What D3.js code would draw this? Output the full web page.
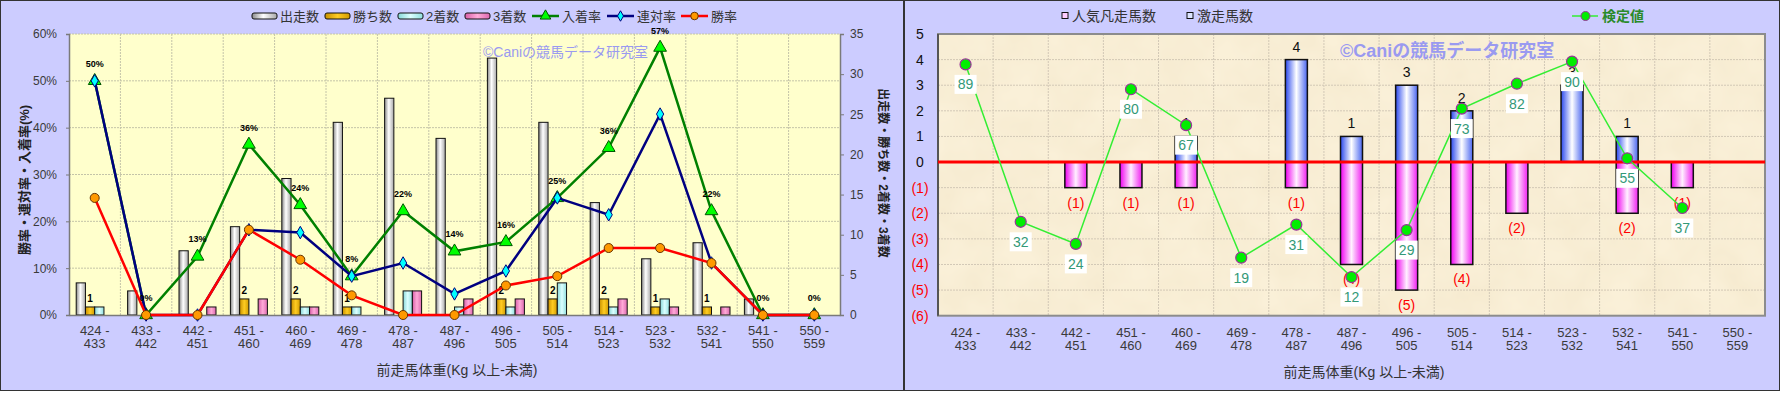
<!DOCTYPE html>
<html>
<head>
<meta charset="utf-8">
<script src="https://cdn.jsdelivr.net/npm/d3@7"></script>
<style>
  body { margin: 0; background: #fff; }
  svg text { font-family: "Liberation Sans", "Noto Sans CJK JP", sans-serif; }
</style>
</head>
<body>
<div id="chart"></div>
<script>
// weight classes (kg, from - to)
let categories = ["424 - 433", "433 - 442", "442 - 451", "451 - 460", "460 - 469", "469 - 478", "478 - 487", "487 - 496",
    "496 - 505", "505 - 514", "514 - 523", "523 - 532", "532 - 541", "541 - 550", "550 - 559"];

// left chart, counts
let runs    = [4, 3, 8, 11, 17, 24, 27, 22, 32, 24, 14, 7, 9, 2, 0];
let wins    = [1, 0, 0, 2, 2, 1, 0, 0, 2, 2, 2, 1, 1, 0, 0];
let seconds = [1, 0, 0, 0, 1, 1, 3, 1, 1, 4, 1, 2, 0, 0, 0];
let thirds  = [0, 0, 1, 2, 1, 0, 3, 2, 2, 0, 2, 1, 1, 0, 0];

// left chart, rates in %
let winRate    = [25, 0, 0, 18.2, 11.8, 4.2, 0, 0, 6.3, 8.3, 14.3, 14.3, 11.1, 0, 0];
let rentaiRate = [50, 0, 0, 18.2, 17.6, 8.3, 11.1, 4.5, 9.4, 25, 21.4, 42.9, 11.1, 0, 0];
let placeRate  = [50, 0, 12.5, 36.4, 23.5, 8.3, 22.2, 13.6, 15.6, 25, 35.7, 57.1, 22.2, 0, 0];

let rateTicks  = [0, 10, 20, 30, 40, 50, 60];
let countTicks = [0, 5, 10, 15, 20, 25, 30, 35];

// right chart
let flopCount  = [0, 0, -1, -1, -1, 0, -1, -4, -5, -4, -2, 0, -2, -1, 0];
let surgeCount = [0, 0, 0, 0, 1, 0, 4, 1, 3, 2, 0, 3, 1, 0, 0];
let testValue  = [89, 32, 24, 80, 67, 19, 31, 12, 29, 73, 82, 90, 55, 37, null];
let horseTicks = [5, 4, 3, 2, 1, 0, -1, -2, -3, -4, -5, -6];

let svg = d3.select("#chart").append("svg")
    .attr("width", 1780)
    .attr("height", 393);
let defs = svg.append("defs");

function hGrad(id, stops) {
    let lg = defs.append("linearGradient").attr("id", id)
        .attr("x1", "0").attr("x2", "1").attr("y1", "0").attr("y2", "0");
    stops.forEach(function(s) {
        lg.append("stop").attr("offset", s[0]).attr("stop-color", s[1]);
    });
}
hGrad("gRun",   [["0", "#8a8a8a"], ["0.45", "#ffffff"], ["1", "#a8a8a8"]]);
hGrad("gWin",   [["0", "#c89000"], ["0.5", "#ffcc22"], ["1", "#d09a00"]]);
hGrad("gSec",   [["0", "#88d8d8"], ["0.5", "#dcffff"], ["1", "#90dede"]]);
hGrad("gThird", [["0", "#d860a8"], ["0.5", "#ffaad8"], ["1", "#dc68ae"]]);
hGrad("gBlue",  [["0", "#2a48ee"], ["0.5", "#ffffff"], ["1", "#4a66f0"]]);
hGrad("gPink",  [["0", "#f000f0"], ["0.5", "#fff0ff"], ["1", "#f020f0"]]);

// paper texture for the right plot
let paper = defs.append("filter").attr("id", "paper")
    .attr("x", 0).attr("y", 0).attr("width", "100%").attr("height", "100%");
paper.append("feTurbulence").attr("type", "fractalNoise")
    .attr("baseFrequency", "0.025").attr("numOctaves", 3).attr("seed", 7);
paper.append("feColorMatrix").attr("type", "matrix")
    .attr("values", "0 0 0 0 0.85  0 0 0 0 0.74  0 0 0 0 0.52  0.5 0 0 0 -0.12");

// ================= left chart =================
let L = { left: 69, right: 840, top: 34, bottom: 315 };
let gL = svg.append("g");

gL.append("rect")
    .attr("x", 0.5).attr("y", 0.5).attr("width", 903).attr("height", 390)
    .attr("fill", "#ccccff").attr("stroke", "#333");
gL.append("rect")
    .attr("x", L.left).attr("y", L.top)
    .attr("width", L.right - L.left).attr("height", L.bottom - L.top)
    .attr("fill", "#ffffcc");

let x = d3.scaleBand().domain(categories).range([L.left, L.right]);
let yL = d3.scaleLinear().domain([0, 60]).range([L.bottom, L.top]);
let yR = d3.scaleLinear().domain([0, 35]).range([L.bottom, L.top]);

// grid
gL.append("g").selectAll("line")
    .data(rateTicks.filter(function(d) { return d > 0; }))
    .enter().append("line")
    .attr("x1", L.left).attr("x2", L.right)
    .attr("y1", function(d) { return yL(d); }).attr("y2", function(d) { return yL(d); })
    .attr("stroke", "#c4c4a8").attr("stroke-dasharray", "2,1");
gL.append("g").selectAll("line")
    .data(categories.slice(1))
    .enter().append("line")
    .attr("x1", function(d) { return x(d); }).attr("x2", function(d) { return x(d); })
    .attr("y1", L.top).attr("y2", L.bottom)
    .attr("stroke", "#c4c4a8").attr("stroke-dasharray", "2,1");

gL.append("text")
    .attr("x", 483).attr("y", 57)
    .attr("fill", "#9a9af0").style("font-size", "14px")
    .text("©Caniの競馬データ研究室");

// bars
let barSeries = ["出走数", "勝ち数", "2着数", "3着数"];
let barValues = [runs, wins, seconds, thirds];
let barFill = ["url(#gRun)", "url(#gWin)", "url(#gSec)", "url(#gThird)"];
let x1 = d3.scaleBand().domain(barSeries).range([7.2, x.bandwidth() - 7.2]);

let barRows = [];
categories.forEach(function(c, i) {
    barSeries.forEach(function(s, j) {
        barRows.push({ cat: c, series: s, value: barValues[j][i], fill: barFill[j] });
    });
});

gL.append("g").selectAll("rect")
    .data(barRows.filter(function(d) { return d.value > 0; }))
    .enter().append("rect")
    .attr("x", function(d) { return x(d.cat) + x1(d.series); })
    .attr("width", x1.bandwidth())
    .attr("y", function(d) { return yR(d.value); })
    .attr("height", function(d) { return L.bottom - yR(d.value); })
    .attr("fill", function(d) { return d.fill; })
    .attr("stroke", "#111").attr("stroke-width", 1);

// win count labels
gL.append("g").selectAll("text")
    .data(barRows.filter(function(d) { return d.series == "勝ち数" && d.value > 0; }))
    .enter().append("text")
    .attr("x", function(d) { return x(d.cat) + x1(d.series) + x1.bandwidth() / 2; })
    .attr("y", function(d) { return yR(d.value) - 5; })
    .attr("text-anchor", "middle")
    .style("font-size", "10px").style("font-weight", "bold")
    .text(function(d) { return d.value; });

// axes
let axL = gL.append("g")
    .attr("transform", "translate(" + L.left + ",0)")
    .call(d3.axisLeft(yL).tickValues(rateTicks).tickFormat(function(d) { return d + "%"; })
        .tickSize(3).tickPadding(9));
let axR = gL.append("g")
    .attr("transform", "translate(" + L.right + ",0)")
    .call(d3.axisRight(yR).tickValues(countTicks).tickSize(4).tickPadding(6));
let axB = gL.append("g")
    .attr("transform", "translate(0," + L.bottom + ")")
    .call(d3.axisBottom(x).tickSize(0));
[axL, axR, axB].forEach(function(a) {
    a.select(".domain").attr("stroke", "#7a7a7a").attr("stroke-width", 1.5);
    a.selectAll(".tick line").attr("stroke", "#7a7a7a");
    a.selectAll("text").attr("fill", "#3a3a3a").style("font-size", "12px");
});

function twoLineTicks(axis, y0) {
    axis.selectAll(".tick text").each(function(d) {
        let parts = d.split(" - ");
        let t = d3.select(this).text(null).attr("y", null).attr("dy", null);
        t.append("tspan").attr("x", 0).attr("y", y0).text(parts[0] + " -");
        t.append("tspan").attr("x", 0).attr("y", y0 + 13).text(parts[1]);
    }).style("font-size", "13px");
}
twoLineTicks(axB, 20);

// lines
let lineSeries = [
    { name: "入着率", values: placeRate,  color: "#008000", mark: d3.symbolTriangle, size: 70, fill: "#00ff00", edge: "#005500" },
    { name: "連対率", values: rentaiRate, color: "#000080", mark: d3.symbolDiamond,  size: 45, fill: "#00ffff", edge: "#000080" },
    { name: "勝率",   values: winRate,    color: "#ff0000", mark: d3.symbolCircle,   size: 64, fill: "#ff9900", edge: "#663300" }
];
let line = d3.line()
    .x(function(d) { return x(d.cat) + x.bandwidth() / 2; })
    .y(function(d) { return yL(d.v); });

lineSeries.forEach(function(s) {
    let pts = categories.map(function(c, i) { return { cat: c, v: s.values[i] }; });
    gL.append("path").datum(pts)
        .attr("d", line)
        .attr("fill", "none").attr("stroke", s.color).attr("stroke-width", 2.5);
    gL.append("g").selectAll("path")
        .data(pts).enter().append("path")
        .attr("d", d3.symbol().type(s.mark).size(s.size))
        .attr("transform", function(d) {
            return "translate(" + (x(d.cat) + x.bandwidth() / 2) + "," + yL(d.v) + ")";
        })
        .attr("fill", s.fill).attr("stroke", s.edge).attr("stroke-width", 1);
});

// place rate labels
gL.append("g").selectAll("text")
    .data(categories.map(function(c, i) { return { cat: c, v: placeRate[i] }; }))
    .enter().append("text")
    .attr("x", function(d) { return x(d.cat) + x.bandwidth() / 2; })
    .attr("y", function(d) { return yL(d.v) - 14; })
    .attr("text-anchor", "middle")
    .style("font-size", "9px").style("font-weight", "bold")
    .text(function(d) { return Math.round(d.v) + "%"; });

// axis titles
gL.append("text")
    .attr("transform", "translate(29,180) rotate(-90)")
    .attr("text-anchor", "middle").attr("fill", "#222")
    .style("font-size", "13px").style("font-weight", "bold")
    .text("勝率・連対率・入着率(%)");
gL.append("text")
    .attr("transform", "translate(879,173) rotate(90)")
    .attr("text-anchor", "middle").attr("fill", "#222")
    .style("font-size", "12px").style("font-weight", "bold")
    .text("出走数・勝ち数・2着数・3着数");
gL.append("text")
    .attr("x", 457).attr("y", 375)
    .attr("text-anchor", "middle").attr("fill", "#333")
    .style("font-size", "14px")
    .text("前走馬体重(Kg 以上-未満)");

// legend
let legL = gL.append("g").attr("transform", "translate(0,16)");
let legBars = [[252, "出走数", "url(#gRun)"], [325, "勝ち数", "url(#gWin)"], [398, "2着数", "url(#gSec)"], [465, "3着数", "url(#gThird)"]];
legBars.forEach(function(b) {
    legL.append("rect").attr("x", b[0]).attr("y", -3).attr("width", 25).attr("height", 6).attr("rx", 2)
        .attr("fill", b[2]).attr("stroke", "#111");
    legL.append("text").attr("x", b[0] + 28).attr("y", 5)
        .attr("fill", "#333").style("font-size", "13px").text(b[1]);
});
let legLineX = [532, 607, 681];
lineSeries.forEach(function(s, i) {
    let lx = legLineX[i];
    legL.append("line").attr("x1", lx).attr("x2", lx + 27).attr("y1", 0).attr("y2", 0)
        .attr("stroke", s.color).attr("stroke-width", 2.5);
    legL.append("path").attr("d", d3.symbol().type(s.mark).size(s.size * 0.7))
        .attr("transform", "translate(" + (lx + 13.5) + ",0)")
        .attr("fill", s.fill).attr("stroke", s.edge);
    legL.append("text").attr("x", lx + 30).attr("y", 5)
        .attr("fill", "#333").style("font-size", "13px").text(s.name);
});

// ================= right chart =================
let R = { left: 938, right: 1765, top: 34, bottom: 315.7 };
let gR = svg.append("g");

gR.append("rect")
    .attr("x", 904.5).attr("y", 0.5).attr("width", 875).attr("height", 390)
    .attr("fill", "#ccccff").attr("stroke", "#333");
gR.append("rect")
    .attr("x", R.left).attr("y", R.top)
    .attr("width", R.right - R.left).attr("height", R.bottom - R.top)
    .attr("fill", "#faf0d8");
gR.append("rect")
    .attr("x", R.left).attr("y", R.top)
    .attr("width", R.right - R.left).attr("height", R.bottom - R.top)
    .attr("filter", "url(#paper)");

let xR = d3.scaleBand().domain(categories).range([R.left, R.right]);
let yC = d3.scaleLinear().domain([-6, 5]).range([R.bottom, R.top]);
let yT = d3.scaleLinear().domain([-2, 100]).range([R.bottom, R.top]);

gR.append("g").selectAll("line")
    .data(horseTicks.slice(1, -1))
    .enter().append("line")
    .attr("x1", R.left).attr("x2", R.right)
    .attr("y1", function(d) { return yC(d); }).attr("y2", function(d) { return yC(d); })
    .attr("stroke", "#d2c8b6").attr("stroke-dasharray", "2,1");
gR.append("g").selectAll("line")
    .data(categories.slice(1))
    .enter().append("line")
    .attr("x1", function(d) { return xR(d); }).attr("x2", function(d) { return xR(d); })
    .attr("y1", R.top).attr("y2", R.bottom)
    .attr("stroke", "#d2c8b6").attr("stroke-dasharray", "2,1");
gR.append("rect")
    .attr("x", R.left).attr("y", R.top)
    .attr("width", R.right - R.left).attr("height", R.bottom - R.top)
    .attr("fill", "none").attr("stroke", "#8c8c8c").attr("stroke-width", 2);
gR.append("line")
    .attr("x1", R.left).attr("x2", R.left).attr("y1", R.top).attr("y2", R.bottom)
    .attr("stroke", "#555").attr("stroke-width", 2);

gR.append("text")
    .attr("x", 1340).attr("y", 57)
    .attr("fill", "#9a9af0").style("font-size", "18px").style("font-weight", "bold")
    .text("©Caniの競馬データ研究室");

// y tick labels
gR.append("g").selectAll("text")
    .data(horseTicks).enter().append("text")
    .attr("x", 920).attr("y", function(d) { return yC(d) + 5; })
    .attr("text-anchor", "middle")
    .attr("fill", function(d) { return d < 0 ? "#ff0000" : "#111"; })
    .style("font-size", "14px")
    .text(function(d) { return d < 0 ? "(" + (-d) + ")" : d; });

// x tick labels
let axBR = gR.append("g")
    .attr("transform", "translate(0," + R.bottom + ")")
    .call(d3.axisBottom(xR).tickSize(0));
axBR.select(".domain").remove();
axBR.selectAll("text").attr("fill", "#3a3a3a");
twoLineTicks(axBR, 21);

// bars
let barW = 22;
let flopRows = categories.map(function(c, i) { return { cat: c, v: flopCount[i] }; })
    .filter(function(d) { return d.v < 0; });
let surgeRows = categories.map(function(c, i) { return { cat: c, v: surgeCount[i] }; })
    .filter(function(d) { return d.v > 0; });

gR.append("g").selectAll("rect")
    .data(surgeRows).enter().append("rect")
    .attr("x", function(d) { return xR(d.cat) + xR.bandwidth() / 2 - barW / 2; })
    .attr("width", barW)
    .attr("y", function(d) { return yC(d.v); })
    .attr("height", function(d) { return yC(0) - yC(d.v); })
    .attr("fill", "url(#gBlue)").attr("stroke", "#111").attr("stroke-width", 1.5);
gR.append("g").selectAll("rect")
    .data(flopRows).enter().append("rect")
    .attr("x", function(d) { return xR(d.cat) + xR.bandwidth() / 2 - barW / 2; })
    .attr("width", barW)
    .attr("y", yC(0))
    .attr("height", function(d) { return yC(d.v) - yC(0); })
    .attr("fill", "url(#gPink)").attr("stroke", "#111").attr("stroke-width", 1.5);

gR.append("g").selectAll("text")
    .data(surgeRows).enter().append("text")
    .attr("x", function(d) { return xR(d.cat) + xR.bandwidth() / 2; })
    .attr("y", function(d) { return yC(d.v) - 8; })
    .attr("text-anchor", "middle").attr("fill", "#111")
    .style("font-size", "14px")
    .text(function(d) { return d.v; });
gR.append("g").selectAll("text")
    .data(flopRows).enter().append("text")
    .attr("x", function(d) { return xR(d.cat) + xR.bandwidth() / 2; })
    .attr("y", function(d) { return yC(d.v) + 20; })
    .attr("text-anchor", "middle").attr("fill", "#ff0000")
    .style("font-size", "14px")
    .text(function(d) { return "(" + (-d.v) + ")"; });

// zero line
gR.append("line")
    .attr("x1", R.left).attr("x2", R.right)
    .attr("y1", yC(0)).attr("y2", yC(0))
    .attr("stroke", "#ff0000").attr("stroke-width", 3);

// test value line
let testRows = categories.map(function(c, i) { return { cat: c, v: testValue[i] }; })
    .filter(function(d) { return d.v != null; });
gR.append("path").datum(testRows)
    .attr("d", d3.line()
        .x(function(d) { return xR(d.cat) + xR.bandwidth() / 2; })
        .y(function(d) { return yT(d.v); }))
    .attr("fill", "none").attr("stroke", "#33ee33").attr("stroke-width", 1.5);
gR.append("g").selectAll("circle")
    .data(testRows).enter().append("circle")
    .attr("cx", function(d) { return xR(d.cat) + xR.bandwidth() / 2; })
    .attr("cy", function(d) { return yT(d.v); })
    .attr("r", 5.5)
    .attr("fill", "#00ee00").attr("stroke", "#993399").attr("stroke-width", 1.2);

let tl = gR.append("g").selectAll("g")
    .data(testRows).enter().append("g")
    .attr("transform", function(d) {
        return "translate(" + (xR(d.cat) + xR.bandwidth() / 2) + "," + (yT(d.v) + 20) + ")";
    });
tl.append("rect")
    .attr("x", -11).attr("y", -9.5).attr("width", 22).attr("height", 19)
    .attr("fill", "#fff");
tl.append("text")
    .attr("y", 5).attr("text-anchor", "middle")
    .attr("fill", "#339977").style("font-size", "14px")
    .text(function(d) { return d.v; });

// legend
let legR = gR.append("g").attr("transform", "translate(0,16)");
[[1062, "人気凡走馬数", "#ffccff"], [1187, "激走馬数", "#dde4ff"]].forEach(function(b) {
    legR.append("rect").attr("x", b[0]).attr("y", -3.5).attr("width", 6).attr("height", 6)
        .attr("fill", b[2]).attr("stroke", "#111");
    legR.append("text").attr("x", b[0] + 10).attr("y", 5)
        .attr("fill", "#333").style("font-size", "14px").text(b[1]);
});
legR.append("line").attr("x1", 1572).attr("x2", 1598).attr("y1", 0).attr("y2", 0)
    .attr("stroke", "#33ee33").attr("stroke-width", 1.5);
legR.append("circle").attr("cx", 1585.5).attr("cy", 0).attr("r", 4.5)
    .attr("fill", "#00ee00").attr("stroke", "#993399");
legR.append("text").attr("x", 1602).attr("y", 5)
    .attr("fill", "#2a8a2a").style("font-size", "14px").style("font-weight", "bold")
    .text("検定値");

gR.append("text")
    .attr("x", 1364).attr("y", 377)
    .attr("text-anchor", "middle").attr("fill", "#333")
    .style("font-size", "14px")
    .text("前走馬体重(Kg 以上-未満)");
</script>
</body>
</html>
